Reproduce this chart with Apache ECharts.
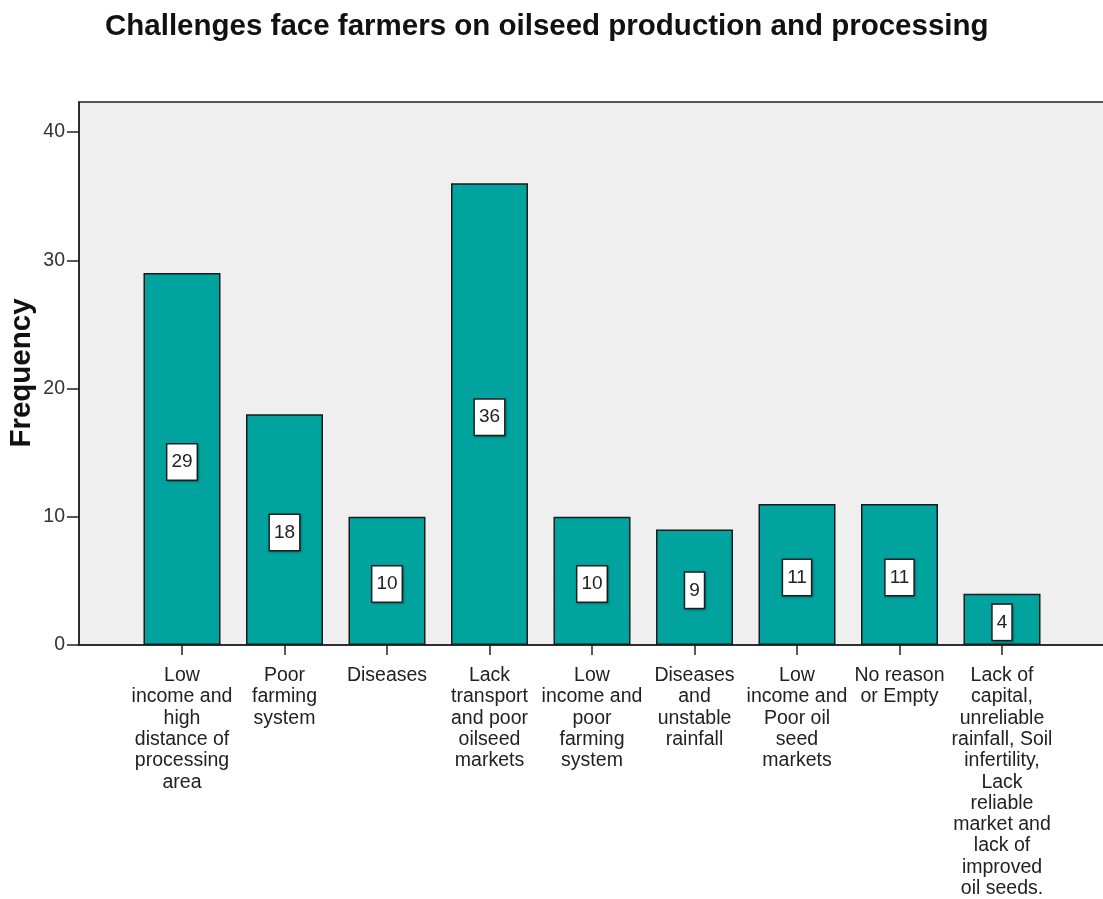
<!DOCTYPE html>
<html>
<head>
<meta charset="utf-8">
<script src="https://cdn.jsdelivr.net/npm/echarts@6/dist/echarts.min.js"></script>
<style>html,body{margin:0;padding:0;background:#fff;}#c{width:1103px;height:899px;}</style>
</head>
<body>
<div id="c"></div>
<script>
const titleText = 'Challenges face farmers on oilseed production and processing';
const categories = [
  'Low\nincome and\nhigh\ndistance of\nprocessing\narea',
  'Poor\nfarming\nsystem',
  'Diseases',
  'Lack\ntransport\nand poor\noilseed\nmarkets',
  'Low\nincome and\npoor\nfarming\nsystem',
  'Diseases\nand\nunstable\nrainfall',
  'Low\nincome and\nPoor oil\nseed\nmarkets',
  'No reason\nor Empty',
  'Lack of\ncapital,\nunreliable\nrainfall, Soil\ninfertility,\nLack\nreliable\nmarket and\nlack of\nimproved\noil seeds.'
];
const frequencies = [29, 18, 10, 36, 10, 9, 11, 11, 4];
const yTicks = [0, 10, 20, 30, 40];
const yName = 'Frequency';

const yMax = 42.34;
const font = 'Liberation Sans, Arial, sans-serif';
const chart = echarts.init(document.getElementById('c'), null, {renderer: 'canvas'});
chart.setOption({
  backgroundColor: '#ffffff',
  animation: false,
  title: {
    text: titleText, left: 100, top: 7,
    textStyle: {fontFamily: font, fontSize: 29.5, fontWeight: 'bold', color: '#111'}
  },
  graphic: [{
    type: 'text', x: 22, y: 373, rotation: Math.PI / 2,
    style: {text: yName, fontFamily: font, fontSize: 29.5, fontWeight: 'bold', fill: '#111', align: 'center', verticalAlign: 'middle'}
  }],
  grid: [
    {left: 79, right: -5, top: 102, bottom: 254, show: true, backgroundColor: '#efefef', borderColor: '#222', borderWidth: 1.5, containLabel: false, outerBoundsMode: 'none'},
    {left: 130.75, right: 49.75, top: 102, bottom: 254, containLabel: false, outerBoundsMode: 'none'}
  ],
  xAxis: [
    {gridIndex: 0, type: 'value', min: 0, max: 1, show: true, axisLine: {show: true, onZero: false, lineStyle: {color: '#222', width: 1.5}}, axisTick: {show: false}, axisLabel: {show: false}, splitLine: {show: false}},
    {gridIndex: 1, type: 'category', data: categories,
     axisLine: {show: false},
     axisTick: {show: true, alignWithLabel: true, length: 10, lineStyle: {color: '#222', width: 1.5}},
     axisLabel: {interval: 0, margin: 20, fontFamily: font, fontSize: 19.5, lineHeight: 21.3, color: '#222', align: 'center', verticalAlign: 'top'}}
  ],
  yAxis: [
    {gridIndex: 0, type: 'value', min: 0, max: yMax, interval: 10,
     axisLine: {show: true, lineStyle: {color: '#222', width: 1.5}},
     axisTick: {show: true, length: 12, lineStyle: {color: '#222', width: 1.5}},
     axisLabel: {fontFamily: font, fontSize: 19.5, color: '#333', margin: 14, showMaxLabel: false,
       formatter: v => yTicks.indexOf(Math.round(v)) >= 0 && Math.abs(v - Math.round(v)) < 1e-6 ? String(Math.round(v)) : ''},
     splitLine: {show: false}},
    {gridIndex: 1, type: 'value', min: 0, max: yMax, show: false}
  ],
  series: [{
    type: 'bar', xAxisIndex: 1, yAxisIndex: 1,
    data: frequencies, barWidth: 77,
    itemStyle: {color: '#00a39e', borderColor: '#1a1a1a', borderWidth: 1.5},
    label: {show: true, position: 'inside', offset: [0, 3], fontFamily: font, fontSize: 19, color: '#222',
      backgroundColor: '#ffffff', borderColor: '#222', borderWidth: 1.5, padding: [8, 4, 8, 4],
      shadowColor: 'rgba(0,0,0,0.25)', shadowBlur: 2, shadowOffsetX: 1, shadowOffsetY: 1}
  }]
});
</script>
</body>
</html>
